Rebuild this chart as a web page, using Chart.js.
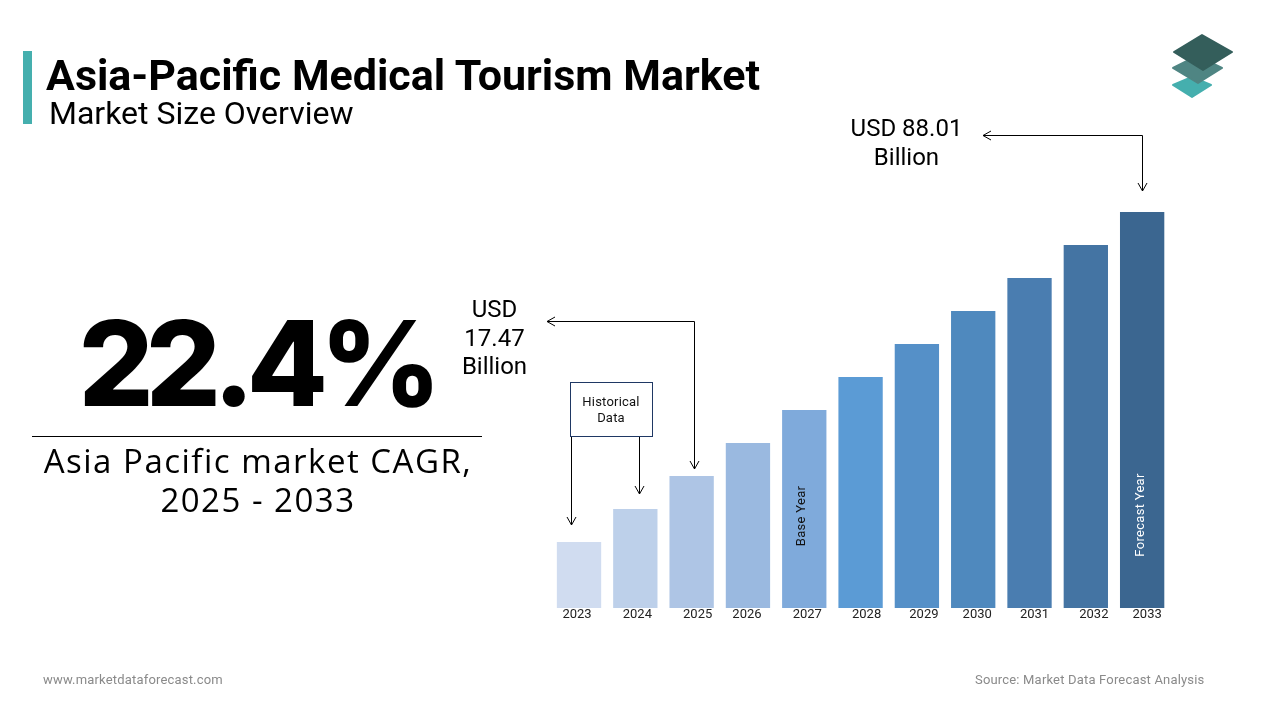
<!DOCTYPE html>
<html><head><meta charset="utf-8">
<script src="https://cdn.jsdelivr.net/npm/chart.js@4"></script>
<style>
html,body{margin:0;padding:0;background:#fff;width:1280px;height:720px;overflow:hidden}
#c{position:absolute;left:0;top:0;width:1280px;height:720px}
.t{position:absolute;white-space:nowrap;font-family:Roboto,sans-serif;color:#000}
.c{transform:translateX(-50%);text-align:center}
svg{position:absolute;left:0;top:0}
</style></head><body>
<canvas id="c" width="1280" height="720"></canvas>
<svg width="1280" height="720" viewBox="0 0 1280 720" fill="none">
 <rect x="23" y="51" width="9" height="73" fill="#45AFAE"/>
 <rect x="32" y="436" width="450" height="1" fill="#000"/>
 <polygon points="1192,77 1211,85 1192,97 1173,85" fill="#45AFAE" stroke="#45AFAE" stroke-width="2" stroke-linejoin="round"/>
 <polygon points="1197,56 1222,68 1198,83 1173,68" fill="#4F8583" stroke="#4F8583" stroke-width="2" stroke-linejoin="round"/>
 <polygon points="1202,35 1232,52 1203,70 1174,52" fill="#345E5B" stroke="#345E5B" stroke-width="2" stroke-linejoin="round"/>
 <rect x="570.5" y="382.5" width="82" height="54" stroke="#1F3864" fill="#fff"/>
 <g stroke="#000" stroke-width="1">
  <path d="M983 135.5H1142.5V191"/><path d="M991 131L983 135.5L991 140"/><path d="M1138 183L1142.5 191L1147 183"/>
  <path d="M547 321.5H694.5V469"/><path d="M555 317L547 321.5L555 326"/><path d="M690 461L694.5 469L699 461"/>
  <path d="M571.5 437V525"/><path d="M567 517L571.5 525L576 517"/>
  <path d="M639.5 437V494"/><path d="M635 486L639.5 494L644 486"/>
 </g>
</svg>
<div class="t" style="left:46px;top:51px;font-size:43px;font-weight:700;line-height:48px">Asia-Pacific Medical Tourism Market</div>
<div class="t" style="left:49px;top:95px;font-size:32px;line-height:36px">Market Size Overview</div>
<div class="t c" style="left:256px;top:295px;font-family:Inter,sans-serif;font-size:118px;font-weight:800;line-height:136px;letter-spacing:-8px">22.4%</div>
<div class="t c" style="left:258px;top:441px;font-family:'Open Sans',sans-serif;font-size:33px;line-height:39px;letter-spacing:1.5px">Asia Pacific market CAGR,<br>2025 - 2033</div>
<div class="t c" style="left:494.5px;top:295px;font-size:24px;line-height:28.5px">USD<br>17.47<br>Billion</div>
<div class="t c" style="left:906.5px;top:114px;font-size:24px;line-height:29px">USD 88.01<br>Billion</div>
<div class="t c" style="left:611px;top:394px;font-size:13px;line-height:15.5px;color:#111;letter-spacing:.2px">Historical<br>Data</div>
<div class="t" style="left:43px;top:672px;font-size:13px;line-height:16px;color:#8a8a8a;letter-spacing:.18px">www.marketdataforecast.com</div>
<div class="t" style="left:975px;top:672px;font-size:13px;line-height:16px;color:#8a8a8a;letter-spacing:.18px">Source: Market Data Forecast Analysis</div>
<script>
const years=['2023','2024','2025','2026','2027','2028','2029','2030','2031','2032','2033'];
const marketSize=[14.67,22.0,29.34,36.67,44.0,51.34,58.67,66.0,73.34,80.67,88.01];
const barColors=['#D0DCF0','#BDD0EA','#AEC5E5','#9AB9E0','#7FAADB','#5B9BD5','#5590C8','#4F89BE','#4A7DB0','#4474A3','#3B6690'];
const tickShift=[-2,2,6,-1,3,6,7,4,5,8,5];
const barNotes=[{i:4,text:'Base Year',color:'#111',dx:-3,y:516},{i:10,text:'Forecast Year',color:'#fff',dx:-1,y:515}];

const shiftTicks={id:'shiftTicks',beforeDraw(ch){
  const s=ch.scales.x,items=s.getLabelItems(ch.chartArea);
  if(items._done)return;
  items.forEach((it,i)=>{it.options.translation[0]+=tickShift[i];});
  items._done=true;
}};
const notes={id:'notes',afterDatasetsDraw(ch){
  const c=ch.ctx,m=ch.getDatasetMeta(0).data;
  barNotes.forEach(n=>{
    c.save();c.translate(m[n.i].x+n.dx,n.y);c.rotate(-Math.PI/2);
    c.font='13px Roboto';c.letterSpacing='.3px';c.fillStyle=n.color;c.textAlign='center';c.textBaseline='middle';
    c.fillText(n.text,0,0);c.restore();
  });
}};
new Chart(document.getElementById('c'),{
  type:'bar',
  data:{labels:years,datasets:[{data:marketSize,backgroundColor:barColors,categoryPercentage:1,barPercentage:0.787}]},
  options:{responsive:false,animation:false,devicePixelRatio:1,
    layout:{padding:{left:550.85,right:109.7,top:212,bottom:0}},
    plugins:{legend:{display:false},tooltip:{enabled:false}},
    scales:{
      y:{display:false,min:0,max:88.01},
      x:{grid:{display:false},border:{display:false},
         afterFit(s){s.height=112;},
         ticks:{color:'#222',font:{family:'Roboto',size:13},padding:-9,maxRotation:0,autoSkip:false}}
    }},
  plugins:[shiftTicks,notes]
});
</script>
</body></html>
